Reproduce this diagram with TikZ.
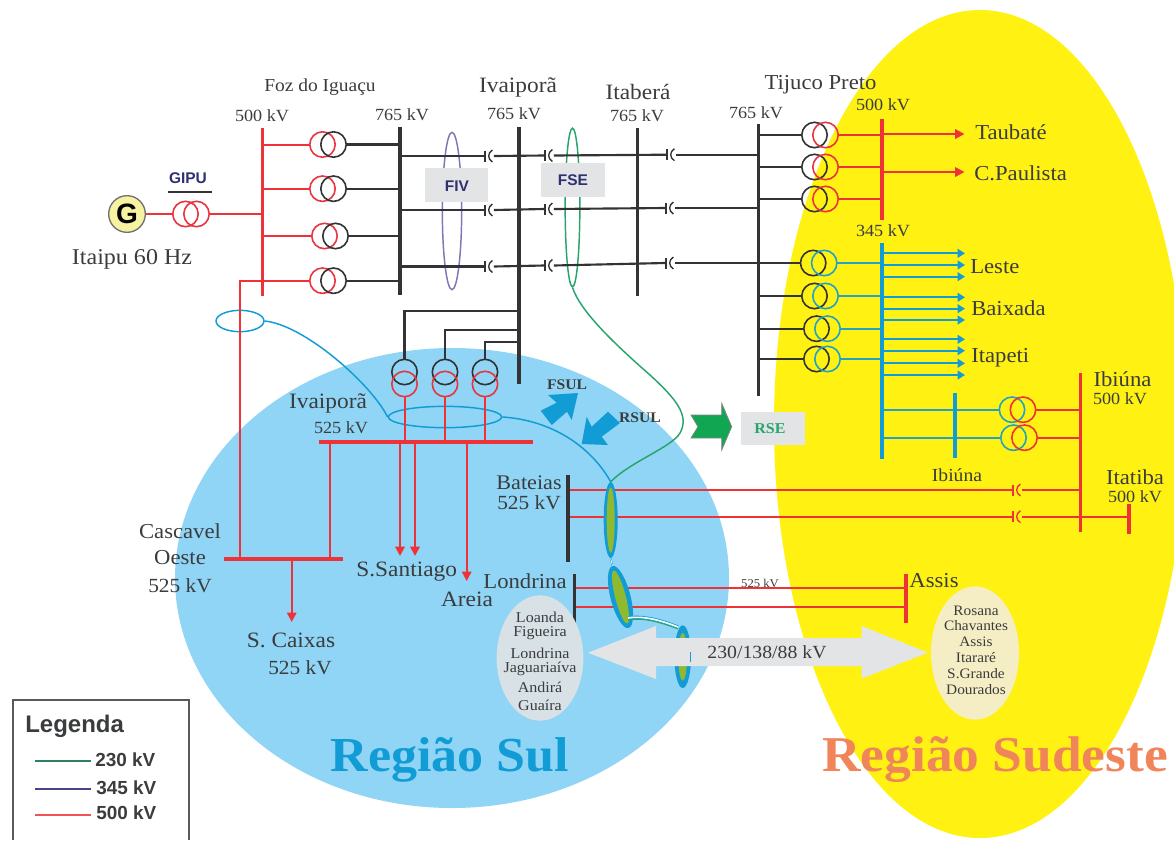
\documentclass[tikz,border=0pt]{standalone}
\usepackage{fontspec}
\setmainfont[Scale=0.94,FakeStretch=1.065]{Liberation Serif}
\setsansfont{Liberation Sans}
\usetikzlibrary{arrows.meta,shapes.geometric,calc}
\definecolor{cRed}{HTML}{EE3338}
\definecolor{cXred}{HTML}{E8353F}
\definecolor{cBlue}{HTML}{129CD6}
\definecolor{cXblue}{HTML}{22A2C4}
\definecolor{cBlack}{HTML}{333335}
\definecolor{cText}{HTML}{3A3C3E}
\definecolor{cNavy}{HTML}{2E3070}
\definecolor{cGrey}{HTML}{E3E4E6}
\definecolor{cSky}{HTML}{90D5F5}
\definecolor{cYel}{HTML}{FFF212}
\definecolor{cGreen}{HTML}{28A46C}
\definecolor{cOlive}{HTML}{8FB92F}
\definecolor{cXpurple}{HTML}{8075B5}
\definecolor{cCream}{HTML}{F5EDC3}
\definecolor{cPale}{HTML}{D8E2E6}
\definecolor{cOrange}{HTML}{F0855A}
\definecolor{cArrow}{HTML}{10A652}
\definecolor{cGen}{HTML}{F6F2A2}
\newcommand\fsz[1]{\fontsize{#1pt}{#1pt}\selectfont}
\tikzset{
  x=0.75pt,y=-0.75pt,
  txt/.style={inner sep=0pt,text=cText,font=\fsz{#1},align=center},
  stxt/.style={inner sep=0pt,text=cText,font=\sffamily\bfseries\fsz{#1},align=left},
  busred/.style={draw=cRed,line width=2.3pt},
  busblack/.style={draw=cBlack,line width=2.3pt},
  busblue/.style={draw=cBlue,line width=2.3pt},
  lred/.style={draw=cRed,line width=1.5pt},
  lblack/.style={draw=cBlack,line width=1.6pt},
  lblue/.style={draw=cBlue,line width=1.5pt},
  lxb/.style={draw=cXblue,line width=1.5pt},
  ared/.style={lred,-{Triangle[length=7pt,width=7pt]}},
  ablue/.style={lblue,-{Triangle[length=5.5pt,width=6.5pt]}},
  xfbox/.style={inner sep=0pt,minimum width=27pt,minimum height=18.75pt,draw=none},
  xfboxv/.style={inner sep=0pt,minimum width=18.75pt,minimum height=27.5pt,draw=none},
  xfc/.style={line width=1.2pt},
  capbox/.style={inner sep=0pt,minimum width=7pt,minimum height=8pt,draw=none},
  elp/.style={ellipse,inner sep=0pt,line width=1.1pt},
  greybox/.style={fill=cGrey,inner sep=0pt,draw=none},
}
\newcommand\xfmr[5]{\node[xfbox] (#1) at (#2,#3) {};
  \draw[xfc,#4] (#1.center) ++(-5.5,0) circle (12.7);
  \draw[xfc,#5] (#1.center) ++(5.5,0) circle (12.7);}
\newcommand\xfmrv[5]{\node[xfboxv] (#1) at (#2,#3) {};
  \draw[xfc,#4] (#1.center) ++(0,-6) circle (12.7);
  \draw[xfc,#5] (#1.center) ++(0,6) circle (12.7);}
\newcommand\capa[4]{\node[capbox] (#1) at (#2,#3) {};
  \draw[line width=1pt,#4] (#1.west) ++(1,-5.5) -- ++(0,11);
  \draw[line width=1pt,#4] (#1.east) ++(-1.5,-6) .. controls ++(-5,3) and ++(-5,-3) .. ++(0,12);}
\begin{document}
\begin{tikzpicture}
\useasboundingbox (0,0) rectangle (1174,840);
\clip (0,0) rectangle (1174,840);
% regions
\node[ellipse,fill=cSky,minimum width=415.5pt,minimum height=345pt,inner sep=0pt] (regsul) at (452,578) {};
\node[ellipse,fill=cYel,minimum width=309pt,minimum height=621pt,inner sep=0pt] (regse) at (980,424) {};
% bus coordinates
\coordinate (b500t) at (262.5,128); \coordinate (b500b) at (262.5,296);
\coordinate (b765t) at (400,127);   \coordinate (b765b) at (400,295);
\coordinate (bivt) at (519,127);    \coordinate (bivb) at (519,384);
\coordinate (bitt) at (637.5,128);  \coordinate (bitb) at (637.5,296);
\coordinate (btpt) at (758.5,124);  \coordinate (btpb) at (758.5,396);
\coordinate (bt5t) at (882,119);    \coordinate (bt5b) at (882,220);
\coordinate (bt3t) at (882,243);    \coordinate (bt3b) at (882,459);
\coordinate (bibt) at (955,393);    \coordinate (bibb) at (955,458);
\coordinate (bi5t) at (1080.5,373); \coordinate (bi5b) at (1080.5,532);
\coordinate (bittt) at (1129,504);  \coordinate (bittb) at (1129,534);
\coordinate (bi525l) at (318.5,442);\coordinate (bi525r) at (533,442);
\coordinate (bcasl) at (224,559);   \coordinate (bcasr) at (342.5,559);
\coordinate (bbatt) at (568,475);   \coordinate (bbatb) at (568,562);
\coordinate (blont) at (574.5,574); \coordinate (blonb) at (574.5,622.5);
\coordinate (bast) at (906,574);    \coordinate (basb) at (906,622.5);
% small label under the Londrina-Assis lines
\node[txt=9.5] (lb525) at (760,583) {525 kV};
% ellipses of the frontier
\node[elp,draw=cBlue,minimum width=36pt,minimum height=16pt] (s1) at (240,321) {};
\node[elp,draw=cBlue,minimum width=85pt,minimum height=16pt] (s2) at (445,417) {};
\node[elp,draw=cGreen,minimum width=11pt,minimum height=119pt] (efse) at (572.5,207.5) {};
\node[elp,draw=cXpurple,minimum width=14.5pt,minimum height=118pt] (efiv) at (452,211) {};
% transformers
\xfmr{gipu}{191}{214}{cXred}{cXred}
\xfmr{f1}{328}{144.5}{cXred}{cBlack}
\xfmr{f2}{328}{188.7}{cXred}{cBlack}
\xfmr{f3}{330}{236}{cXred}{cBlack}
\xfmr{f4}{328}{280.7}{cXred}{cBlack}
\xfmr{t1}{820}{135}{cBlack}{cXred}
\xfmr{t2}{820}{167}{cBlack}{cXred}
\xfmr{t3}{820}{199}{cBlack}{cXred}
\xfmr{t4}{818.7}{263}{cBlack}{cXblue}
\xfmr{t5}{820}{296}{cBlack}{cXblue}
\xfmr{t6}{822}{328.7}{cBlack}{cXblue}
\xfmr{t7}{822}{359}{cBlack}{cXblue}
\xfmrv{i1}{404.5}{378}{cBlack}{cXred}
\xfmrv{i2}{445}{378}{cBlack}{cXred}
\xfmrv{i3}{485}{378}{cBlack}{cXred}
\xfmr{ib1}{1017.5}{409.7}{cXblue}{cRed}
\xfmr{ib2}{1019}{437.7}{cXblue}{cRed}
% generator
\node[circle,draw=cBlack!70,line width=1pt,fill=cGen,minimum size=27.5pt,inner sep=0pt,font=\sffamily\bfseries\fsz{21}] (gen) at (127,214) {G};
% capacitors
\capa{c11}{489}{156}{cBlack}
\capa{c12}{549}{155.5}{cBlack}
\capa{c13}{671}{154.7}{cBlack}
\capa{c21}{489}{210}{cBlack}
\capa{c22}{549}{209}{cBlack}
\capa{c23}{670}{208}{cBlack}
\capa{c31}{489}{266.5}{cBlack}
\capa{c32}{549}{265.5}{cBlack}
\capa{c33}{670}{263}{cBlack}
\capa{c41}{1017}{490}{cRed}
\capa{c42}{1017}{516.7}{cRed}
% connectors: generator side
\draw[lred] (gen) -- (gipu.west);
\draw[lred] (gipu.east) -- (b500t |- gipu.east);
\foreach \n in {f1,f2,f3,f4}{
  \draw[lred] (b500t |- \n.west) -- (\n.west);
  \draw[lblack] (\n.east) -- (b765t |- \n.east);
}
% 765 kV lines
\foreach \a/\b/\c in {c11/c12/c13,c21/c22/c23,c31/c32/c33}{
  \draw[lblack] (b765t |- \a.west) -- (\a.west);
  \draw[lblack] (\a.east) -- (\b.west);
  \draw[lblack] (\b.east) -- (\c.west);
}
\draw[lblack] (c13.east) -- (btpt |- c13.east);
\draw[lblack] (c23.east) -- (btpt |- c23.east);
\draw[lblack] (c33.east) -- (t4.west);
% Tijuco Preto links
\foreach \n in {t1,t2,t3,t5,t6,t7}{ \draw[lblack] (btpt |- \n.west) -- (\n.west); }
\foreach \n in {t1,t2,t3}{ \draw[lred] (\n.east) -- (bt5t |- \n.east); }
\foreach \n in {t4,t5,t6,t7}{ \draw[lxb] (\n.east) -- (bt3t |- \n.east); }
% Ivaipora links
\coordinate (i1k) at (404.5,310.7); \coordinate (i2k) at (445,330); \coordinate (i3k) at (485,341.7);
\foreach \n/\k in {i1/i1k,i2/i2k,i3/i3k}{
  \draw[lblack] (\n.north) -- (\k) -- (bivt |- \k);
  \draw[lred] (\n.south) -- (\n.south |- bi525l);
}
% outputs
\coordinate (aT) at (964.5,134); \coordinate (aC) at (964.5,172);
\draw[ared] (bt5t |- aT) -- (aT);
\draw[ared] (bt5t |- aC) -- (aC);
\foreach \yy in {253.3,265,276.7,297.3,308.7,320,339.3,350.7,363.3,375}{
  \coordinate (aa) at (965,\yy);
  \draw[ablue] (bt3t |- aa) -- (aa);
}
\foreach \n in {ib1,ib2}{
  \draw[lxb] (bt3t |- \n.west) -- (\n.west);
  \draw[lred] (\n.east) -- (bi5t |- \n.east);
}
% 525 kV network
\coordinate (f4l) at (240,280.7); \coordinate (casj) at (240,559);
\draw[lred] (f4.west) -- (f4l) -- (casj);
\coordinate (casr) at (330,559);
\draw[lred] (casr |- bi525l) -- (casr);
\coordinate (aS1) at (400,556); \coordinate (aS2) at (415,556); \coordinate (aAr) at (466.7,581); \coordinate (aCx) at (291.7,622);
\draw[ared] (aS1 |- bi525l) -- (aS1);
\draw[ared] (aS2 |- bi525l) -- (aS2);
\draw[ared] (aAr |- bi525l) -- (aAr);
\draw[ared] (aCx |- bcasl) -- (aCx);
\draw[lred] (bbatt |- c41.west) -- (c41.west);
\draw[lred] (bbatt |- c42.west) -- (c42.west);
\draw[lred] (c41.east) -- (bi5t |- c41.east);
\draw[lred] (c42.east) -- (bittt |- c42.east);
\coordinate (lo1) at (574.5,588.3); \coordinate (lo2) at (574.5,606.7);
\draw[lred] (lo1) -- (bast |- lo1);
\draw[lred] (lo2) -- (bast |- lo2);
% buses
\draw[busred] (b500t) -- (b500b);
\draw[busblack] (b765t) -- (b765b);
\draw[busblack] (bivt) -- (bivb);
\draw[busblack] (bitt) -- (bitb);
\draw[busblack] (btpt) -- (btpb);
\draw[busred] (bt5t) -- (bt5b);
\draw[busblue] (bt3t) -- (bt3b);
\draw[busblue] (bibt) -- (bibb);
\draw[busred] (bi5t) -- (bi5b);
\draw[busred] (bittt) -- (bittb);
\draw[busred,line width=3pt] (bi525l) -- (bi525r);
\draw[busred,line width=3pt] (bcasl) -- (bcasr);
\draw[busblack] (bbatt) -- (bbatb);
\draw[busblack] (blont) -- (blonb);
\draw[busred] (bast) -- (basb);
% flow interface ribbon
\node[ellipse,fill=cBlue,inner sep=0pt,minimum width=10.5pt,minimum height=57pt] (e1) at (610.7,520) {};
\node[ellipse,fill=cOlive,inner sep=0pt,minimum width=6pt,minimum height=49pt] (e1i) at (e1) {};
\node[ellipse,fill=cBlue,rotate=14.5,inner sep=0pt,minimum width=15pt,minimum height=48pt] (e2) at (620.5,597) {};
\node[ellipse,fill=cOlive,rotate=14.5,inner sep=0pt,minimum width=8pt,minimum height=41pt] (e2i) at (e2) {};
\node[ellipse,fill=cBlue,inner sep=0pt,minimum width=12.5pt,minimum height=47pt] (e3) at (682.7,656.7) {};
\node[ellipse,fill=cOlive,inner sep=0pt,minimum width=6.5pt,minimum height=36pt] (e3i) at (e3) {};
\draw[cBlue,line width=1.2pt] (e1.south) -- (e2.north);
\draw[white,line width=.5pt] (e1.south) -- (e2.north);
\draw[cBlue,line width=2.4pt] (628,618) .. controls (645,615) and (665,622) .. (678,627);
\draw[white,line width=1.2pt] (628,618) .. controls (645,615) and (665,622) .. (678,627);
\draw[cGreen,line width=.7pt] (628,620) .. controls (645,617) and (665,624) .. (678,629);
% blue and green flow curves
\draw[cBlue,line width=1.1pt] (s1.east) .. controls (305,325) and (372,385) .. (s2.west);
\draw[cBlue,line width=1.1pt] (s2.east) .. controls (550,420) and (590,445) .. (e1.north);
\draw[cGreen,line width=1.1pt] (efse.south) .. controls (580,310) and (610,340) .. (650,375) .. controls (675,398) and (690,415) .. (680,433) .. controls (672,447) and (630,462) .. (e1.north);
% double arrow
\fill[cGrey] (588,652.7) -- (656,626) -- (656,638) -- (861.7,638) -- (861.7,626) -- (928,652.7) -- (861.7,678.5) -- (861.7,666) -- (656,666) -- (656,679) -- cycle;
\node[fill=cBlue,inner sep=0pt,minimum width=1.2pt,minimum height=7.5pt] (tick) at (690.5,657) {};
\node[txt=14.8] (volts) at (767,652) {230/138/88 kV};
% boxes
\node[greybox,minimum width=47pt,minimum height=25.5pt] (fiv) at (456.5,185) {};
\node[greybox,minimum width=48pt,minimum height=25.5pt] (fse) at (573,180) {};
\node[greybox,minimum width=48pt,minimum height=25pt] (rse) at (773,428.5) {};
\node[inner sep=0pt,text=cNavy,font=\sffamily\bfseries\fsz{11.6}] (fivt) at (457,186) {FIV};
\node[inner sep=0pt,text=cNavy,font=\sffamily\bfseries\fsz{11.6}] (fset) at (573,180) {FSE};
\node[inner sep=0pt,text=cGreen,font=\bfseries\fsz{12}] (rset) at (770,429) {RSE};
% GIPU
\node[inner sep=0pt,text=cNavy,font=\sffamily\bfseries\fsz{11.6}] (gipul) at (188,178.5) {GIPU};
\coordinate (gu1) at (168,192); \coordinate (gu2) at (212,192);
\draw[cBlack,line width=1pt] (gu1) -- (gu2);
% block arrows
\fill[cBlue] (578,393) -- (548,395) -- (556.7,402.7) -- (540.7,410.7) -- (551.7,425) -- (567,411.7) -- (571.7,420) -- cycle;
\fill[cBlue] (581.7,444) -- (608,445) -- (601.7,436.7) -- (620,423) -- (608,411.7) -- (591.7,426.7) -- (586.7,416.7) -- cycle;
\draw[fill=cArrow,draw=cBlack!60,line width=.6pt] (691,415) -- (721.7,415) -- (721.7,403.3) -- (731.7,426.7) -- (721.7,450) -- (721.7,438) -- (691,438) -- (698,426.7) -- cycle;
\node[inner sep=0pt,text=cText,font=\bfseries\fsz{11.7}] (fsul) at (567,385) {FSUL};
\node[inner sep=0pt,text=cText,font=\bfseries\fsz{11.7}] (rsul) at (640,418) {RSUL};
% labels top
\node[txt=14.6] (l1) at (320,87) {Foz do Iguaçu};
\node[txt=13.6] (l2) at (262,116) {500 kV};
\node[txt=13.6] (l3) at (402,115) {765 kV};
\node[txt=17.5] (l4) at (518,87) {Ivaiporã};
\node[txt=13.6] (l5) at (514,114) {765 kV};
\node[txt=17.5] (l6) at (638,92) {Itaberá};
\node[txt=13.6] (l7) at (637,116) {765 kV};
\node[txt=17] (l8) at (820.5,85) {Tijuco Preto};
\node[txt=13.6] (l9) at (756,113) {765 kV};
\node[txt=13.6] (l10) at (883,105) {500 kV};
\node[txt=13.6] (l11) at (883,231) {345 kV};
\node[txt=18] (l12) at (132,259) {Itaipu 60 Hz};
\node[txt=17,anchor=west] (l13) at (975,132) {Taubaté};
\node[txt=17,anchor=west] (l14) at (974,173) {C.Paulista};
\node[txt=17,anchor=west] (l15) at (970,267) {Leste};
\node[txt=17,anchor=west] (l16) at (971,308) {Baixada};
\node[txt=17,anchor=west] (l17) at (971,358) {Itapeti};
\node[txt=17] (l18) at (1122.5,379.5) {Ibiúna};
\node[txt=13.6] (l19) at (1120,399) {500 kV};
\node[txt=14.7] (l20) at (957,475) {Ibiúna};
\node[txt=17] (l21) at (1135,477) {Itatiba};
\node[txt=13.6] (l22) at (1135,496.5) {500 kV};
\node[txt=17.5] (l23) at (328,403) {Ivaiporã};
\node[txt=13.6] (l24) at (341,428) {525 kV};
\node[txt=17] (l25) at (180,531) {Cascavel};
\node[txt=17] (l26) at (180,558) {Oeste};
\node[txt=16] (l27) at (180,586) {525 kV};
\node[txt=17.5] (l28) at (406.7,572) {S.Santiago};
\node[txt=17.5] (l29) at (467,599) {Areia};
\node[txt=17.5] (l30) at (291,640) {S. Caixas};
\node[txt=16] (l31) at (300,668) {525 kV};
\node[txt=17] (l32) at (525,581) {Londrina};
\node[txt=16.6] (l33) at (529,483) {Bateias};
\node[txt=16] (l34) at (529,503) {525 kV};
\node[txt=17] (l35) at (934,581) {Assis};
% city ellipses
\node[ellipse,fill=cPale,inner sep=0pt,minimum width=65pt,minimum height=94pt] (elo) at (540,658) {};
\node[ellipse,fill=cCream,inner sep=0pt,minimum width=66pt,minimum height=100pt] (ero) at (975,653) {};
\foreach \t/\yy/\nm in {Loanda/617/a,Figueira/633/b,Londrina/653/c,Jaguariaíva/669/d,Andirá/687/e,Guaíra/705/f}{
  \node[txt=12] (ci\nm) at (540,\yy) {\t};
}
\foreach \t/\yy/\nm in {Rosana/611/a,Chavantes/626/b,Assis/642/c,Itararé/658/d,S.Grande/674/e,Dourados/690/f}{
  \node[txt=11.5] (cj\nm) at (976,\yy) {\t};
}
% region titles
\node[inner sep=0pt,anchor=base,text=cBlue,font=\bfseries\fsz{39}] (tsul) at (450,771) {Região Sul};
\node[inner sep=0pt,anchor=base,text=cOrange,font=\bfseries\fsz{40}] (tse) at (995,771.5) {Região Sudeste};
% legend
\coordinate (lg1) at (12.5,840); \coordinate (lg2) at (12.5,699.5); \coordinate (lg3) at (189,699.5); \coordinate (lg4) at (189,840);
\fill[white] (lg1) -- (lg2) -- (lg3) -- (lg4) -- cycle;
\draw[draw=cText!85,line width=1.5pt] (lg1) -- (lg2) -- (lg3) -- (lg4);
\node[stxt=18,anchor=west] (lgt) at (25,726) {Legenda};
\node[stxt=14.2,anchor=west] (lg230) at (95,760) {230 kV};
\node[stxt=14.2,anchor=west] (lg345) at (96,788) {345 kV};
\node[stxt=14.2,anchor=west] (lg500) at (96,813) {500 kV};
\coordinate (ls1) at (35,761); \coordinate (ls2) at (35,789); \coordinate (ls3) at (35,814.7);
\coordinate (le1) at (91,761); \coordinate (le2) at (91,789); \coordinate (le3) at (91,814.7);
\draw[draw=cGreen!70!cBlack,line width=1.5pt] (ls1) -- (le1);
\draw[draw=cNavy!70!cXpurple,line width=1.5pt] (ls2) -- (le2);
\draw[draw=cRed!85!white,line width=1.5pt] (ls3) -- (le3);
\end{tikzpicture}
\end{document}
